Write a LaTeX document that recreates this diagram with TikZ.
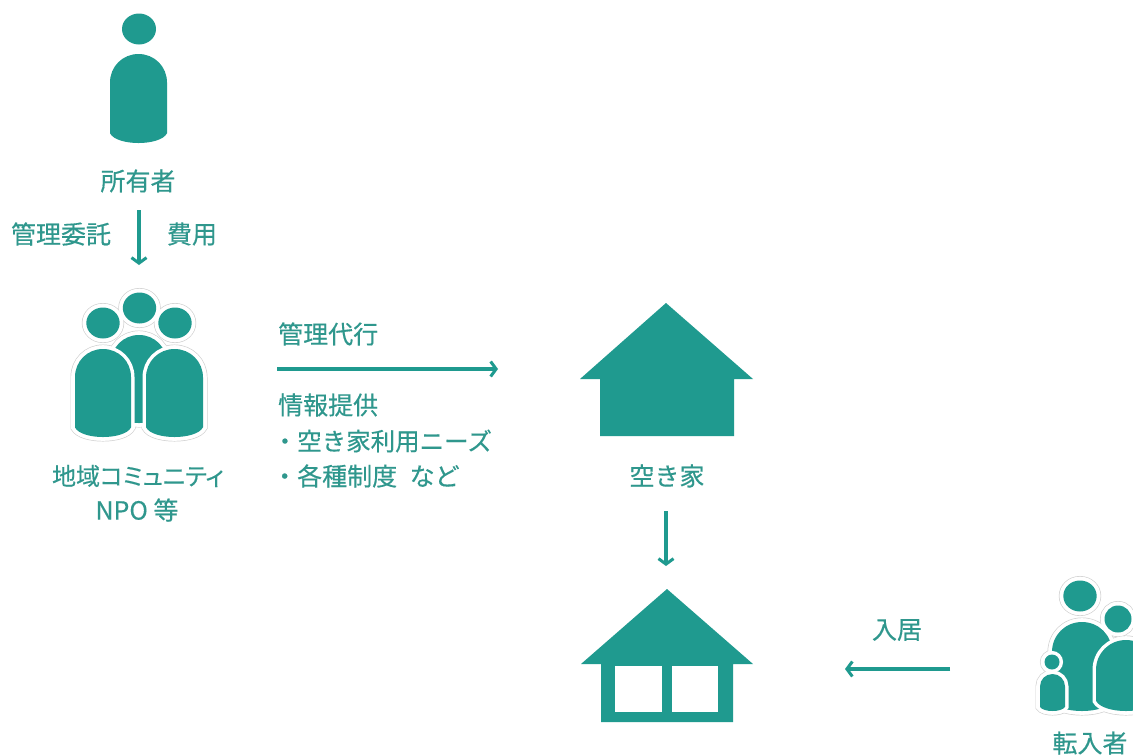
\documentclass[tikz,border=0pt]{standalone}
\usepackage{fontspec}
\setmainfont{Noto Sans CJK JP}[AutoFakeBold=0.35]
\newfontfamily\paltfont{Noto Sans CJK JP}[RawFeature=+palt,AutoFakeBold=0.35]
\usetikzlibrary{arrows.meta}
\definecolor{tealmain}{HTML}{1F9A8F}
\definecolor{tealtext}{HTML}{2F978D}
\tikzset{
  lbl/.style={text=tealtext,font=\fontsize{25}{28}\selectfont\bfseries,inner sep=0pt},
  lblsmall/.style={text=tealtext,font=\fontsize{24}{28}\selectfont\bfseries,inner sep=0pt},
  lblmid/.style={text=tealtext,font=\fontsize{24.5}{28}\selectfont\bfseries,inner sep=0pt,anchor=west},
  lblleft/.style={lbl,anchor=west},
  flow/.style={draw=tealmain,line width=3.6pt,-{Straight Barb[length=5.5pt,width=15pt,line width=3pt]}},
  solidfill/.style={fill=tealmain},
  halogray/.style={draw=black!18,line width=9pt},
  halowhite/.style={draw=white,fill=white,line width=7.6pt},
  cutwhite/.style={draw=white,line width=7pt},
  windowpane/.style={fill=white}
}
% style, x left, x right, y top, y bottom
\newcommand{\bodyp}[5]{\path[#1] (#2,{#4+.5*(#3-#2)}) .. controls (#2,{#4+.22*(#3-#2)}) and ({#2+.22*(#3-#2)},#4) .. ({.5*(#2+#3)},#4) .. controls ({#3-.22*(#3-#2)},#4) and (#3,{#4+.22*(#3-#2)}) .. (#3,{#4+.5*(#3-#2)}) -- (#3,{#5-.17*(#3-#2)}) .. controls ({#3-.12*(#3-#2)},{#5+.057*(#3-#2)}) and ({#2+.12*(#3-#2)},{#5+.057*(#3-#2)}) .. (#2,{#5-.17*(#3-#2)}) -- cycle;}
% style, cx, cy, rx, ry
\newcommand{\headp}[5]{\path[#1] (#2,#3) ellipse [x radius=#4,y radius=#5];}
\newcommand{\groupshapes}[1]{%
  \bodyp{#1}{111}{167}{335}{423}\bodyp{#1}{75}{131}{349}{437}\bodyp{#1}{146}{203}{349}{437}%
  \headp{#1}{139.5}{308}{16.7}{15.5}\headp{#1}{103}{323}{16.7}{15.5}\headp{#1}{175}{323}{16.7}{15.5}}
\newcommand{\familyshapes}[1]{%
  \bodyp{#1}{1052}{1112}{622}{711}\bodyp{#1}{1096}{1156}{640}{711}\bodyp{#1}{1040}{1065}{674}{711}%
  \headp{#1}{1080}{596}{16.7}{15.5}\headp{#1}{1118}{619}{13.5}{13.5}\headp{#1}{1052}{662}{7.5}{7.5}}
\newcommand{\solidb}[4]{\bodyp{cutwhite}{#1}{#2}{#3}{#4}\bodyp{solidfill}{#1}{#2}{#3}{#4}}
\newcommand{\solidh}[4]{\headp{cutwhite}{#1}{#2}{#3}{#4}\headp{solidfill}{#1}{#2}{#3}{#4}}
\begin{document}
\begin{tikzpicture}[x=1pt,y=-1pt]
\clip (0,0) rectangle (1133,755);
\fill[white] (0,0) rectangle (1133,755);

% owner
\headp{solidfill}{139}{29}{17}{15.5}
\bodyp{solidfill}{110}{167}{54}{143}

% group
\groupshapes{halogray}
\groupshapes{halowhite}
\solidb{111}{167}{335}{423}
\solidb{75}{131}{349}{437}
\solidb{146}{203}{349}{437}
\solidh{139.5}{308}{16.7}{15.5}
\solidh{103}{323}{16.7}{15.5}
\solidh{175}{323}{16.7}{15.5}

% family
\familyshapes{halogray}
\familyshapes{halowhite}
\solidb{1052}{1112}{622}{711}
\solidb{1096}{1156}{640}{711}
\solidb{1040}{1065}{674}{711}
\solidh{1080}{596}{16.7}{15.5}
\solidh{1118}{619}{13.5}{13.5}
\solidh{1052}{662}{7.5}{7.5}

% empty house
\fill[solidfill] (666,303) -- (753,379) -- (734,379) -- (734,436) -- (600,436) -- (600,379) -- (580,379) -- cycle;

% occupied house
\fill[solidfill] (667,589) -- (753,664) -- (733,664) -- (733,722) -- (601,722) -- (601,664) -- (581,664) -- cycle;
\fill[windowpane] (615,666) rectangle (662,712);
\fill[windowpane] (672,666) rectangle (718,712);

% labels
\node[lbl] (owner) at (138,181) {所有者};
\node[lbl] (consign) at (61,234) {管理委託};
\node[lbl] (fee) at (192,234) {費用};
\node[lblsmall] (community) at (138,476) {\paltfont 地域コミュニティ};
\node[lbl] (npo) at (137,510) {NPO 等};
\node[lblleft] (proxy) at (278,334) {管理代行};
\node[lblleft] (info) at (278,405) {情報提供};
\node[lblmid] (needs) at (272.5,441) {・空き家利用ニーズ};
\node[lblleft] (systems) at (272,476) {・各種制度\hspace{0.5em}など};
\node[lbl] (vacant) at (667,476) {空き家};
\node[lbl] (movein) at (897,630) {入居};
\node[lbl] (newcomer) at (1090,743) {転入者};

% connectors
\coordinate (a1s) at (139,210); \coordinate (a1e) at (139,265);
\coordinate (a2s) at (277,369); \coordinate (a2e) at (498,369);
\coordinate (a3s) at (666,511); \coordinate (a3e) at (666,566);
\coordinate (a4s) at (950,669); \coordinate (a4e) at (845,669);
\draw[flow] (a1s) -- (a1e);
\draw[flow] (a2s) -- (a2e);
\draw[flow] (a3s) -- (a3e);
\draw[flow] (a4s) -- (a4e);
\end{tikzpicture}
\end{document}
